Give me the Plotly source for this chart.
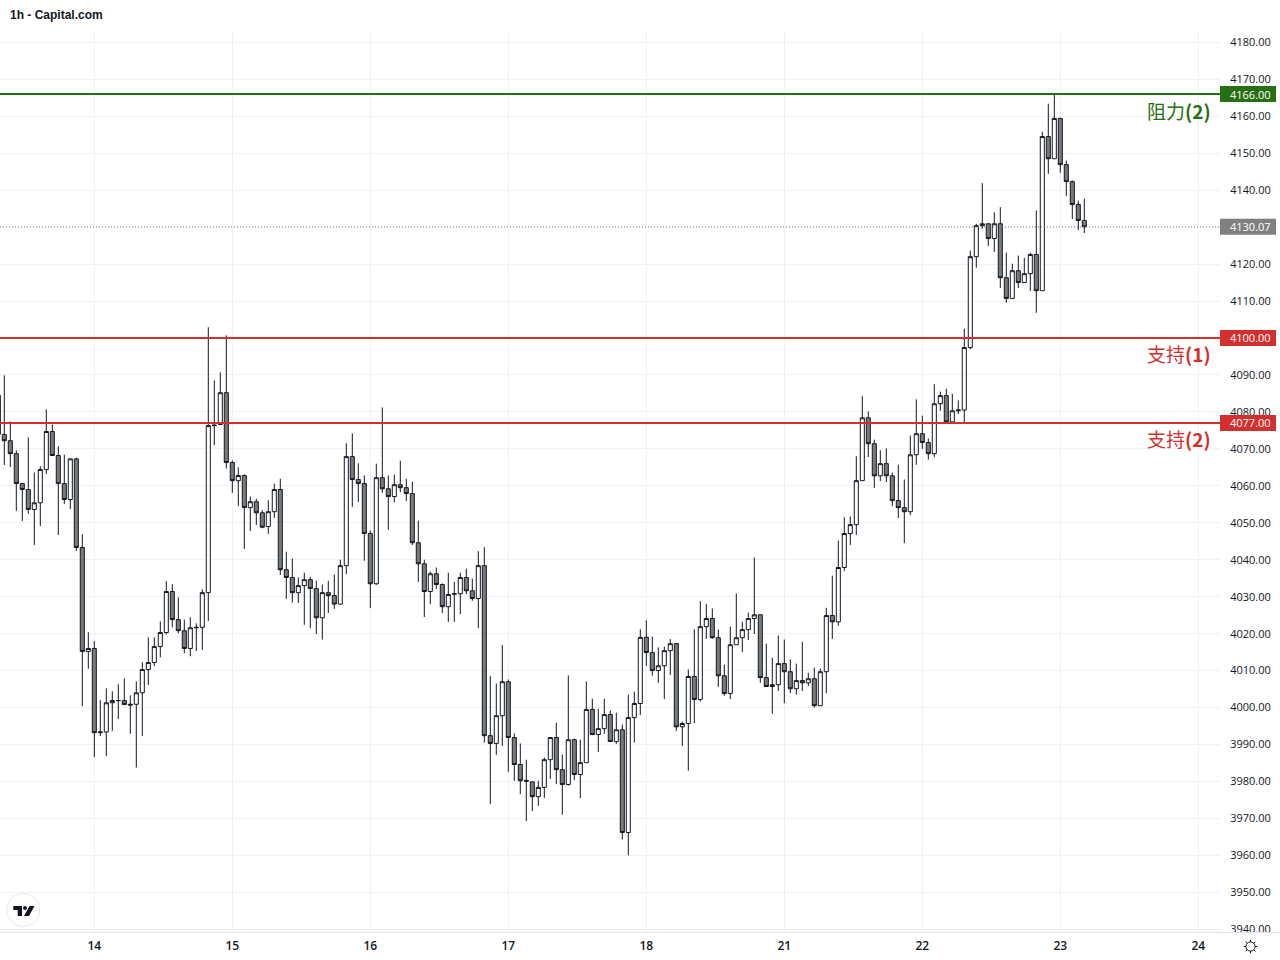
import math
import plotly.graph_objects as go

# hourly candles, bar 0 is the first bar of day "14"
opens = [4084.5,4073.9,4072.2,4068.7,4060.6,4059.0,4053.6,4055.4,4064.4,4074.7,4068.2,4060.6,4056.3,4067.3,4043.3,4015.2,
    4016.0,3993.2,3993.4,4001.3,4001.9,4001.9,4000.9,4000.9,4004.0,4010.3,
    4012.2,4016.5,4020.3,4031.4,4023.8,4020.8,4016.0,4021.6,4021.7,4031.1,
    4076.3,4076.6,4085.2,4066.3,4061.4,4062.8,4054.1,4055.7,4052.7,4049.0,
    4053.0,4059.0,4037.3,4035.2,4031.1,4033.0,4034.6,4032.2,4024.3,4031.1,
    4030.3,4028.0,4038.4,4067.9,4061.7,4060.6,4047.1,4033.5,4062.2,4059.2,
    4057.1,4060.3,4059.5,4057.9,4044.6,4038.9,4031.4,4036.2,4033.3,4027.3,
    4030.7,4030.8,4035.2,4031.6,4029.5,4038.4,3992.4,3990.3,3997.8,4007.0,
    3991.9,3984.6,3980.3,3979.9,3975.9,3978.4,3985.9,3991.9,3983.2,3979.2,
    3991.3,3981.9,3985.1,3999.5,3992.7,3994.3,3998.1,3990.8,3994.0,3966.2,
    3997.3,4001.1,4019.0,4014.9,4010.0,4011.3,4015.4,4017.3,3994.8,3995.7,
    4008.4,4002.2,4021.9,4024.1,4018.9,4008.6,4003.8,4017.0,4018.9,4021.1,
    4024.1,4025.1,4008.1,4005.7,4006.2,4011.9,4009.7,4005.1,4007.3,4006.7,
    4007.8,4000.5,4009.7,4024.9,4023.2,4037.9,4047.1,4049.5,4061.4,4078.4,
    4071.4,4062.7,4066.0,4062.7,4056.0,4054.1,4053.0,4068.4,4074.1,4071.7,
    4068.7,4082.2,4084.4,4077.3,4080.3,4080.5,4097.4,4122.0,4130.4,4130.9,
    4126.9,4130.9,4116.3,4110.7,4118.2,4115.0,4117.4,4122.6,4112.8,4154.5,
    4148.5,4159.4,4146.9,4142.3,4136.1,4131.8]
highs = [4086.0,4089.9,4077.4,4069.6,4060.6,4073.1,4063.6,4065.3,4080.7,4076.6,4070.7,4068.4,4067.3,4067.6,4046.9,4020.4,
    4018.0,4002.0,4005.2,4004.4,4006.3,4007.9,4003.3,4007.1,4012.3,4019.0,
    4019.0,4023.3,4034.2,4033.4,4029.8,4023.8,4024.4,4022.8,4032.0,4102.9,
    4088.5,4090.7,4100.7,4066.9,4065.0,4063.1,4057.1,4056.5,4053.4,4056.1,
    4060.6,4061.9,4042.2,4040.3,4035.2,4036.5,4035.4,4034.3,4033.3,4034.3,
    4036.0,4040.0,4071.5,4074.2,4066.1,4062.8,4047.9,4066.0,4081.2,4062.8,
    4063.0,4066.8,4061.9,4061.1,4050.6,4040.0,4036.8,4037.9,4033.6,4036.5,
    4034.0,4036.5,4037.6,4034.9,4042.3,4043.4,4008.5,4006.5,4016.9,4007.6,
    3993.0,3990.3,3985.9,3979.9,3980.2,3986.5,3992.0,3995.9,3987.3,4008.7,
    3991.6,3991.3,4007.1,4002.4,3999.7,4002.4,3999.2,3998.6,3995.4,4003.5,
    4004.3,4021.2,4023.6,4019.2,4016.3,4016.5,4018.5,4017.3,3996.2,4010.3,
    4021.2,4028.8,4028.0,4026.8,4021.1,4011.6,4021.9,4030.9,4023.2,4025.7,
    4040.6,4025.1,4017.3,4013.5,4019.5,4018.4,4013.0,4011.9,4017.8,4009.4,
    4010.8,4010.5,4027.0,4035.7,4045.2,4051.5,4051.7,4068.0,4084.2,4080.1,
    4072.5,4069.6,4070.1,4063.6,4065.7,4061.7,4073.6,4083.4,4079.0,4072.8,
    4087.5,4085.5,4086.3,4084.9,4083.1,4102.5,4123.6,4130.9,4141.9,4131.0,
    4134.0,4135.4,4123.1,4120.1,4122.3,4121.7,4123.1,4134.5,4155.8,4163.4,
    4166.1,4159.6,4148.0,4142.6,4137.2,4137.7]
lows = [4073.0,4065.6,4065.1,4053.2,4050.5,4052.4,4044.0,4049.1,4063.2,4068.2,4046.7,4055.1,4053.7,4042.4,4000.4,4010.5,
    3986.6,3992.3,3986.9,3993.7,3996.9,4000.8,3992.9,3983.8,3992.3,4006.1,
    4011.2,4013.6,4019.8,4021.7,4020.1,4014.7,4013.9,4015.3,4015.6,4023.4,
    4071.0,4076.4,4064.7,4058.1,4054.5,4042.9,4047.8,4049.4,4048.5,4047.0,
    4051.3,4035.9,4029.4,4028.4,4028.3,4022.4,4021.5,4019.9,4018.4,4025.6,
    4026.7,4027.9,4036.1,4054.3,4055.6,4039.7,4026.9,4033.2,4058.1,4048.1,
    4055.5,4058.3,4055.9,4044.0,4034.0,4024.5,4028.0,4032.1,4025.6,4023.2,
    4023.2,4025.3,4030.7,4028.9,4021.5,3990.5,3973.9,3987.2,3989.6,3982.6,
    3980.2,3976.6,3969.3,3972.0,3973.4,3975.5,3980.7,3979.3,3971.0,3978.9,
    3980.4,3975.5,3985.1,3992.7,3988.0,3992.9,3990.8,3990.2,3964.3,3960.0,
    3990.5,3998.0,4011.3,4008.6,4006.7,4002.3,4008.8,3993.7,3989.6,3982.9,
    3995.8,4001.6,4018.6,4018.6,4005.6,4003.2,4002.3,4017.0,4015.0,4018.3,
    4019.9,4006.7,4005.7,3998.3,4004.5,4001.2,4003.9,4003.5,4004.5,4005.8,
    4000.0,4000.5,4003.9,4018.6,4022.1,4037.0,4044.0,4046.7,4061.4,4067.8,
    4059.4,4061.3,4061.0,4054.5,4051.3,4044.5,4052.1,4065.7,4070.0,4067.1,
    4067.8,4080.3,4076.9,4077.3,4079.4,4076.9,4096.9,4119.0,4129.6,4124.9,
    4123.3,4113.5,4109.5,4110.7,4113.5,4115.0,4112.7,4106.8,4112.8,4144.4,
    4148.5,4144.7,4138.4,4132.2,4129.2,4128.4]
closes = [4073.9,4072.2,4068.7,4060.6,4059.0,4053.6,4055.4,4064.4,4074.7,4068.2,4060.6,4056.3,4067.3,4043.3,4015.2,4016.0,
    3993.2,3993.4,4001.3,4001.9,4001.9,4000.8,4000.7,4004.0,4010.3,4012.2,
    4016.5,4020.3,4031.4,4023.8,4020.8,4016.0,4021.6,4021.7,4031.1,4076.3,
    4076.4,4085.2,4066.3,4061.4,4062.8,4054.1,4055.7,4052.7,4048.8,4053.0,
    4059.0,4037.3,4035.2,4031.1,4033.0,4034.6,4032.2,4024.3,4031.1,4030.3,
    4028.0,4038.4,4067.9,4061.7,4060.6,4047.1,4033.5,4062.2,4059.2,4057.1,
    4060.3,4059.5,4057.9,4044.6,4038.9,4031.4,4036.2,4033.3,4027.3,4030.6,
    4030.8,4035.2,4031.6,4029.5,4038.4,3992.4,3990.3,3997.8,4007.0,3991.9,
    3984.6,3980.2,3980.1,3975.9,3978.4,3985.9,3991.9,3983.2,3979.2,3991.3,
    3981.9,3985.1,3999.5,3992.7,3994.3,3998.1,3990.8,3994.0,3966.2,3997.3,
    4001.1,4019.0,4014.9,4010.0,4011.3,4015.4,4017.3,3994.8,3995.7,4008.4,
    4002.2,4021.9,4024.1,4018.9,4008.6,4003.8,4017.0,4018.9,4021.1,4024.1,
    4025.1,4008.1,4005.7,4006.2,4011.9,4009.7,4005.1,4007.3,4006.7,4007.8,
    4000.5,4009.7,4024.9,4023.2,4037.9,4047.1,4049.5,4061.4,4078.4,4071.4,
    4062.7,4066.0,4062.7,4056.0,4054.1,4053.0,4068.4,4074.1,4071.7,4068.7,
    4082.2,4084.4,4077.3,4080.3,4080.5,4097.4,4122.0,4130.4,4130.9,4126.9,
    4130.9,4116.3,4110.7,4118.2,4115.0,4117.4,4122.6,4112.8,4154.5,4148.5,
    4159.4,4146.9,4142.3,4136.1,4131.8,4130.07]
bars = list(range(-16, 166))

# day labels on the time axis
day_bars = [0, 23, 46, 69, 92, 115, 138, 161, 184]
day_labels = ["14", "15", "16", "17", "18", "21", "22", "23", "24"]

price_ticks = list(range(3940, 4190, 10))

# horizontal levels
level_prices = [4166, 4100, 4077]
level_names = ["阻力", "支持", "支持"]
level_numbers = ["(2)", "(1)", "(2)"]
level_colors = ["#276f13", "#d32f2f", "#d32f2f"]
last_price = 4130.07

TEXT = "#131722"
GRID = "#f1f1f2"
AXIS = "#e0e3eb"
W, H = 1280, 960
L_PLOT, T_PLOT, R_PLOT, B_PLOT = 0, 31, 1220, 932
PX_PER_PRICE = 3.696


def px(x, y):
    # screen pixels to paper coords
    return x / R_PLOT, (B_PLOT - y) / (B_PLOT - T_PLOT)


def rect(x0, y0, x1, y1, **kw):
    a, b = px(x0, y0)
    c, d = px(x1, y1)
    return dict(type="rect", xref="paper", yref="paper", x0=a, y0=b, x1=c, y1=d, **kw)


def circle(cx, cy, r, **kw):
    a, b = px(cx - r, cy - r)
    c, d = px(cx + r, cy + r)
    return dict(type="circle", xref="paper", yref="paper", x0=a, y0=b, x1=c, y1=d, **kw)


def poly(points, **kw):
    parts = []
    for i, (x, y) in enumerate(points):
        a, b = px(x, y)
        parts.append(("M" if i == 0 else "L") + f"{a:.5f},{b:.5f}")
    return dict(type="path", xref="paper", yref="paper", path=" ".join(parts) + " Z", **kw)


def price_tag(price, color):
    # tag on the price scale: box drawn over the tick labels, text on top
    half = 8 / PX_PER_PRICE
    shapes.append(dict(type="rect", xref="paper", yref="y", x0=1, x1=1276 / R_PLOT,
                       y0=price - half, y1=price + half, fillcolor=color, line=dict(width=0)))
    annotations.append(dict(xref="paper", yref="y", x=1250 / R_PLOT, y=price, xanchor="center", yanchor="middle",
                            text=f"{price:.2f}", showarrow=False,
                            font=dict(family="Open Sans", size=11, color="#ffffff")))


fig = go.Figure(go.Candlestick(
    x=bars, open=opens, high=highs, low=lows, close=closes,
    increasing=dict(fillcolor="#ffffff", line=dict(color=TEXT, width=1)),
    decreasing=dict(fillcolor="#787b7a", line=dict(color=TEXT, width=1)),
    whiskerwidth=0,
    hoverinfo="skip",
    showlegend=False,
))

shapes = []
annotations = []

# last price dotted line
shapes.append(dict(type="line", xref="paper", yref="y", x0=0, x1=1, y0=last_price, y1=last_price,
                   line=dict(color="#787b86", width=1, dash="1px,2px")))

for price, name, num, color in zip(level_prices, level_names, level_numbers, level_colors):
    shapes.append(dict(type="line", xref="paper", yref="y", x0=0, x1=1, y0=price, y1=price,
                       line=dict(color=color, width=2)))
    price_tag(price, color)
    annotations.append(dict(xref="paper", yref="y", x=1213 / R_PLOT, y=price, yshift=-16,
                            xanchor="right", yanchor="middle", showarrow=False,
                            text=f"{name}<b>{num}</b>",
                            font=dict(family="Noto Sans CJK TC", size=19, color=color)))

price_tag(last_price, "#808080")

# header text
tx, ty = px(8, 15)
annotations.append(dict(xref="paper", yref="paper", x=tx, y=ty, xanchor="left", yanchor="middle",
                        text="<b>1h - Capital.com</b>", showarrow=False,
                        font=dict(family="Liberation Sans", size=12, color=TEXT)))

# cut the lowest price label at the axis line, the way the chart does
shapes.append(rect(R_PLOT, B_PLOT, W, H, fillcolor="#ffffff", line=dict(width=0)))
shapes.append(rect(L_PLOT, B_PLOT, W, B_PLOT + 1, fillcolor=AXIS, line=dict(width=0)))

# logo
shapes.append(circle(23.3, 910, 16.5, fillcolor="#ffffff", line=dict(color="#e8e8ec", width=1)))
shapes.append(poly([(13.3, 906), (22, 906), (22, 916), (17.7, 916), (17.7, 910), (13.3, 910)],
                   fillcolor=TEXT, line=dict(width=0)))
shapes.append(circle(25, 908, 2, fillcolor=TEXT, line=dict(width=0)))
shapes.append(poly([(29.5, 906), (34.5, 906), (29, 916), (24, 916)], fillcolor=TEXT, line=dict(width=0)))

# settings icon
shapes.append(circle(1250.5, 946.5, 4.6, fillcolor="#ffffff", line=dict(color=TEXT, width=1)))
for i in range(8):
    a = math.pi / 4 * i
    x0, y0 = px(1250.5 + 4.6 * math.cos(a), 946.5 + 4.6 * math.sin(a))
    x1, y1 = px(1250.5 + 6.8 * math.cos(a), 946.5 + 6.8 * math.sin(a))
    shapes.append(dict(type="line", xref="paper", yref="paper", x0=x0, y0=y0, x1=x1, y1=y1,
                       line=dict(color=TEXT, width=1)))

y_top = 4180 + (42.3 - T_PLOT) / PX_PER_PRICE
y_bottom = 4180 - (B_PLOT - 42.3) / PX_PER_PRICE
x_left = -94.3 / 6
x_right = (R_PLOT - 94.3) / 6

fig.update_layout(
    width=W, height=H,
    autosize=False,
    margin=dict(l=L_PLOT, r=W - R_PLOT, t=T_PLOT, b=H - B_PLOT, pad=0),
    paper_bgcolor="#ffffff", plot_bgcolor="#ffffff",
    boxgap=0.18, boxgroupgap=0.18,
    shapes=shapes, annotations=annotations,
    font=dict(family="Open Sans", color=TEXT),
    xaxis=dict(
        range=[x_left, x_right], rangeslider=dict(visible=False),
        tickmode="array", tickvals=day_bars, ticktext=day_labels,
        showgrid=True, gridcolor=GRID, gridwidth=1, zeroline=False,
        showline=False, ticks="outside", ticklen=3, tickcolor="#ffffff",
        tickfont=dict(family="Open Sans", size=12, color=TEXT, weight=600),
    ),
    yaxis=dict(
        range=[y_bottom, y_top], side="right",
        tickmode="array", tickvals=price_ticks, ticktext=[f"{p:.2f}" for p in price_ticks],
        showgrid=True, gridcolor=GRID, gridwidth=1, zeroline=False,
        showline=False, ticks="outside", ticklen=7, tickcolor="#ffffff",
        tickfont=dict(family="Open Sans", size=11, color=TEXT),
    ),
)

# page margin would push the chart off the window
fig.write_html("out.html", config={"displayModeBar": False},
               post_script="document.body.style.margin='0';document.body.style.overflow='hidden';")
